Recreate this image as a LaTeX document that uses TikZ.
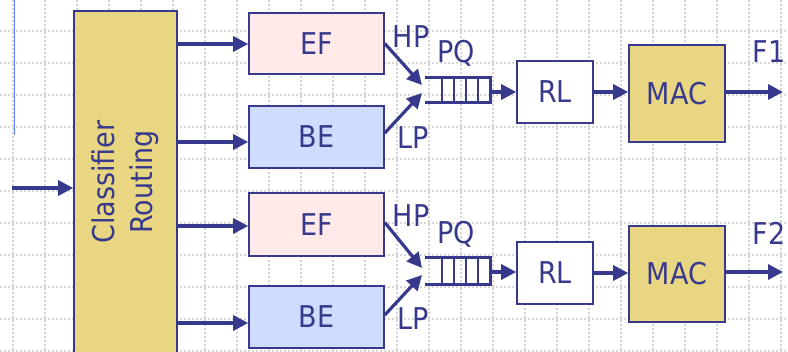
\documentclass[tikz,border=0pt]{standalone}
\usepackage{fontspec}
\setmainfont{DejaVu Sans}[FakeStretch=0.9]
\usetikzlibrary{arrows.meta,calc}
\definecolor{navy}{RGB}{55,58,140}
\definecolor{gold}{RGB}{233,214,131}
\definecolor{pinkf}{RGB}{255,233,233}
\definecolor{bluef}{RGB}{206,221,255}
\definecolor{gridc}{RGB}{214,214,214}
\definecolor{vline}{RGB}{90,130,255}
\begin{document}
\begin{tikzpicture}[x=1pt,y=-1pt,
  font=\fontsize{30}{38}\selectfont,
  box/.style={draw=navy, line width=1.6pt, text=navy, inner sep=0pt, align=center},
  arr/.style={draw=navy, line width=3.2pt, -{Triangle[length=15pt,width=15pt]}},
  lbl/.style={text=navy, inner sep=0pt},
  qline/.style={draw=navy, line width=3pt},
  qdiv/.style={draw=navy, line width=2.5pt},
  gridline/.style={draw=gridc, line width=1.2pt, dash pattern=on 2pt off 2pt}]
\useasboundingbox (0,0) rectangle (788,352);
\clip (0,0) rectangle (788,352);
% background grid
\foreach \x in {13,45,...,781} \draw[gridline] (\x,0) -- (\x,352);
\foreach \y in {31,63,...,351} \draw[gridline] (0,\y) -- (788,\y);
\draw[vline, line width=1pt] (14,0) -- (14,135);

% nodes
\node[box, fill=gold, rotate=90, minimum width=342pt, minimum height=103pt] (cls) at (125.5,182) {Classifier\\Routing};
\node[box, fill=pinkf, minimum width=135pt, minimum height=61pt] (EF1) at (316.5,43.5) {EF};
\node[box, fill=bluef, minimum width=135pt, minimum height=62pt] (BE1) at (316.5,137) {BE};
\node[box, fill=pinkf, minimum width=135pt, minimum height=63pt] (EF2) at (316.5,224.5) {EF};
\node[box, fill=bluef, minimum width=135pt, minimum height=62pt] (BE2) at (316.5,317) {BE};
\node[box, fill=white, minimum width=76pt, minimum height=62pt] (RL1) at (555,92) {RL};
\node[box, fill=white, minimum width=76pt, minimum height=62pt] (RL2) at (555,273) {RL};
\node[box, fill=gold, minimum width=96pt, minimum height=97pt] (MAC1) at (677,93.5) {MAC};
\node[box, fill=gold, minimum width=96pt, minimum height=96pt] (MAC2) at (677,274) {MAC};

% labels
\node[lbl] (hp1) at (411,37) {HP};
\node[lbl] (lp1) at (413,138) {LP};
\node[lbl] (pq1) at (456,53) {PQ};
\node[lbl] (f1) at (769,52) {F1};
\node[lbl] (hp2) at (411,216) {HP};
\node[lbl] (lp2) at (413,319) {LP};
\node[lbl] (pq2) at (456,234) {PQ};
\node[lbl] (f2) at (769,233) {F2};

% input arrow
\coordinate (in) at (12,188);
\draw[arr] (in) -- (in -| cls.north);

% classifier outputs
\coordinate (r1) at (0,44);
\coordinate (r2) at (0,142);
\coordinate (r3) at (0,226);
\coordinate (r4) at (0,323);
\draw[arr] (cls.south |- r1) -- (EF1.west |- r1);
\draw[arr] (cls.south |- r2) -- (BE1.west |- r2);
\draw[arr] (cls.south |- r3) -- (EF2.west |- r3);
\draw[arr] (cls.south |- r4) -- (BE2.west |- r4);

% priority queue 1
\coordinate (h1) at (422,85);
\coordinate (l1) at (422,93);
\draw[arr] (EF1.east) -- (h1);
\draw[arr] ($(BE1.east)+(0,-4)$) -- (l1);
\draw[qline] (425,78) -- (490,78) -- (490,103) -- (425,103);
\foreach \x in {442,454,466,478} \draw[qdiv] (\x,78) -- (\x,103);
\coordinate (q1) at (490,92);
\draw[arr] (q1) -- (q1 -| RL1.west);
\draw[arr] (RL1.east) -- (RL1.east -| MAC1.west);
\coordinate (o1) at (783,92);
\draw[arr] (o1 -| MAC1.east) -- (o1);

% priority queue 2
\coordinate (h2) at (422,268);
\coordinate (l2) at (422,275);
\draw[arr] ($(EF2.east)+(0,-2)$) -- (h2);
\draw[arr] ($(BE2.east)+(0,-2)$) -- (l2);
\draw[qline] (425,258) -- (490,258) -- (490,285) -- (425,285);
\foreach \x in {442,454,466,478} \draw[qdiv] (\x,258) -- (\x,285);
\coordinate (q2) at (490,272);
\draw[arr] (q2) -- (q2 -| RL2.west);
\draw[arr] (RL2.east) -- (RL2.east -| MAC2.west);
\coordinate (o2) at (783,272);
\draw[arr] (o2 -| MAC2.east) -- (o2);
\end{tikzpicture}
\end{document}
